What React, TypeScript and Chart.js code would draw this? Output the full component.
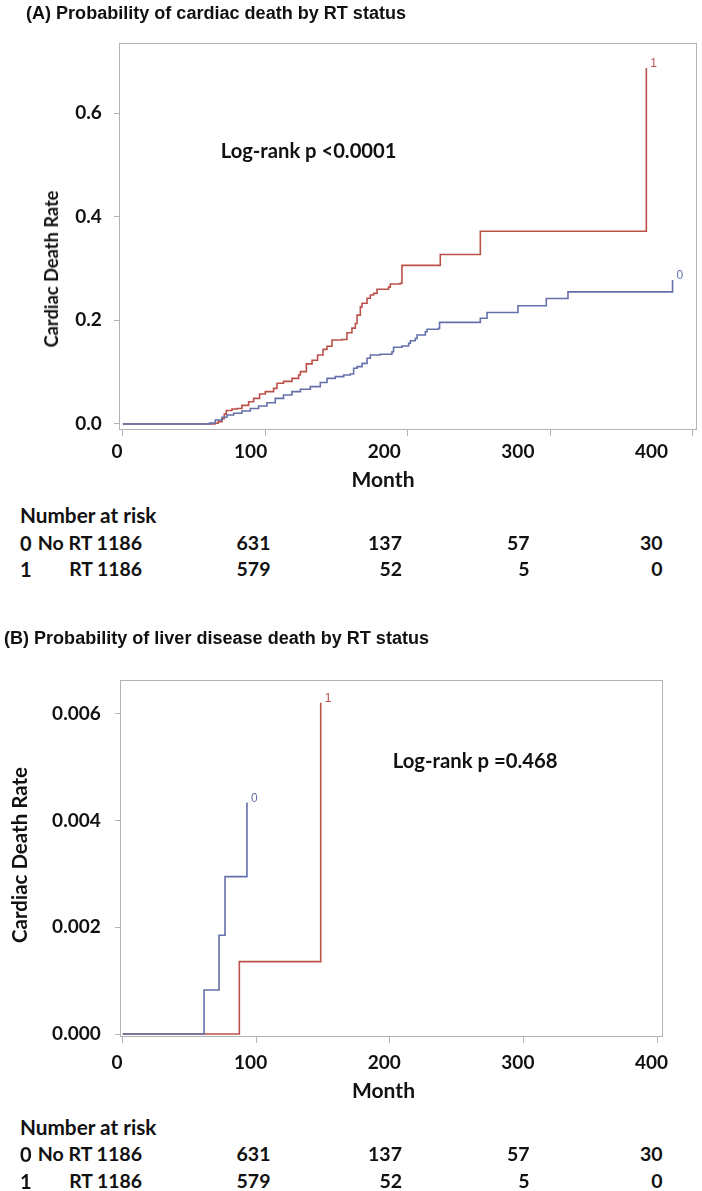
import React, { useEffect, useRef } from "react";
import { Chart, registerables } from "chart.js";

Chart.register(...registerables);

// ---------------- data ----------------
const X_TICKS = [0, 100, 200, 300, 400];
const A_Y_TICKS = [0, 0.2, 0.4, 0.6];
const B_Y_TICKS = [0, 0.002, 0.004, 0.006];
const GROUP_CODES = ["0", "1"];
const GROUP_NAMES = ["No RT", "RT"];
const RISK_AT_START = [1186, 1186];
const RISK_NO_RT = [631, 137, 57, 30];
const RISK_RT = [579, 52, 5, 0];

// Panel A: cardiac death
const A_NORT_MONTHS = [0, 60.9, 64.9, 69.6, 73.1, 77.8, 83.6, 89.5, 95.3, 101.2, 107, 112.8, 118.7, 124.6, 131.6, 138.6, 143.3, 149.1, 155, 159.6, 162, 164.4, 167.9, 171.4, 173.7, 180.7, 188.9, 190, 195.9, 200.6, 201.8, 205.3, 206.5, 212.3, 213.5, 221.6, 222.3, 250.9, 255.6, 277.3, 297.2, 312.4, 385.8];
const A_NORT_RATE = [0, 0.002, 0.0077, 0.013, 0.0174, 0.0206, 0.025, 0.03, 0.0347, 0.041, 0.0495, 0.056, 0.0624, 0.067, 0.072, 0.08, 0.088, 0.0913, 0.0945, 0.0965, 0.1075, 0.1106, 0.117, 0.1267, 0.133, 0.1345, 0.1395, 0.148, 0.1505, 0.1557, 0.1607, 0.165, 0.1717, 0.178, 0.1827, 0.1846, 0.196, 0.204, 0.215, 0.228, 0.242, 0.255, 0.278];
const A_RT_MONTHS = [0, 64.7, 67, 69.6, 71.2, 72.6, 76.6, 80.1, 83.6, 88.3, 91.8, 96, 100, 105.8, 108.2, 112.8, 118.7, 123.4, 124.6, 128.8, 132.8, 136.7, 140.5, 143.3, 146.8, 153.8, 157.3, 160.8, 163.2, 164.4, 166.7, 167.9, 171.4, 173.7, 176, 178.4, 186.5, 187.7, 194.7, 195.9, 222.8, 250.9, 367.4];
const A_RT_RATE = [0, 0.0013, 0.0045, 0.0103, 0.019, 0.026, 0.029, 0.03, 0.036, 0.043, 0.0495, 0.058, 0.0624, 0.0688, 0.0785, 0.0823, 0.088, 0.0945, 0.101, 0.116, 0.123, 0.133, 0.144, 0.15, 0.162, 0.163, 0.176, 0.185, 0.194, 0.21, 0.226, 0.233, 0.2425, 0.249, 0.252, 0.26, 0.264, 0.27, 0.2715, 0.306, 0.327, 0.372, 0.687];

// Panel B: liver disease death
const B_NORT_MONTHS = [0, 60.9, 72.1, 76.6, 93];
const B_NORT_RATE = [0, 0.000825, 0.00185, 0.00295, 0.00434];
const B_RT_MONTHS = [0, 87.3, 148.2];
const B_RT_RATE = [0, 0.001356, 0.00621];

// ---------------- styles ----------------
const BLUE = "#6470aa";
const RED = "#bb5149";
const AXIS_COLOR = "#b3b3b3";
const TEXT_COLOR = "#111";
const BODY_FONT = "Lato, 'Open Sans', sans-serif";
const TITLE_FONT = "'Liberation Sans', Arial, sans-serif";
const TICK_FONT = { family: BODY_FONT, size: 19, weight: "bold" as const };

let measureCtx: CanvasRenderingContext2D | null = null;
function textWidth(text: string, font: string): number {
  if (!measureCtx) measureCtx = document.createElement("canvas").getContext("2d");
  if (!measureCtx) return 1;
  measureCtx.font = font;
  return measureCtx.measureText(text).width || 1;
}

const kmPlugin = {
  id: "kmBox",
  beforeDatasetsDraw(chart: any) {
    const { ctx, chartArea: a } = chart;
    ctx.save();
    ctx.strokeStyle = AXIS_COLOR;
    ctx.lineWidth = 1;
    ctx.strokeRect(Math.round(a.left) + 0.5, Math.round(a.top) + 0.5, Math.round(a.right - a.left) - 1, Math.round(a.bottom - a.top) - 1);
    ctx.restore();
  },
  afterDatasetsDraw(chart: any) {
    const { ctx } = chart;
    ctx.save();
    ctx.font = "12px 'Liberation Sans', Arial, sans-serif";
    ctx.textAlign = "left";
    ctx.textBaseline = "bottom";
    chart.data.datasets.forEach((ds: any, i: number) => {
      const meta = chart.getDatasetMeta(i);
      const pts = meta.data;
      if (!pts.length) return;
      const last = pts[pts.length - 1];
      ctx.fillStyle = ds.borderColor;
      ctx.fillText(ds.label, last.x + 4, last.y + 2);
    });
    ctx.restore();
  },
};

type Series = { months: number[]; rate: number[]; color: string; label: string };

type KMProps = {
  top: number;
  height: number;
  padTop: number;
  padRight: number;
  yWidth: number;
  xMin: number;
  xMax: number;
  yMin: number;
  yMax: number;
  yTicks: number[];
  yDecimals: number;
  yTickPad: number;
  labelMin: number;
  labelMax: number;
  xlHeight: number;
  xlPad: number;
  series: Series[];
};

function KMChart(p: KMProps) {
  const ref = useRef<HTMLCanvasElement>(null);
  useEffect(() => {
    const chart = new Chart(ref.current as HTMLCanvasElement, {
      type: "line",
      data: {
        datasets: p.series.map((s) => ({
          label: s.label,
          data: s.months.map((m, i) => ({ x: m, y: s.rate[i] })),
          borderColor: s.color,
          backgroundColor: s.color,
          borderWidth: 1.6,
          pointRadius: 0,
          stepped: true,
          fill: false,
          xAxisID: "x",
          yAxisID: "y",
        })),
      },
      options: {
        responsive: false,
        animation: false,
        devicePixelRatio: 1,
        layout: { padding: { top: p.padTop, right: p.padRight, left: 0, bottom: 0 } },
        plugins: { legend: { display: false }, tooltip: { enabled: false } },
        scales: {
          x: {
            type: "linear",
            position: "bottom",
            weight: 0,
            min: p.xMin,
            max: p.xMax,
            border: { display: false },
            grid: { drawOnChartArea: false, drawTicks: true, tickLength: 6, color: AXIS_COLOR },
            ticks: { display: false },
            afterBuildTicks: (s: any) => {
              s.ticks = X_TICKS.map((v) => ({ value: v }));
            },
            afterFit: (s: any) => {
              s.height = 6;
            },
          },
          xl: {
            type: "linear",
            axis: "x",
            position: "bottom",
            weight: 1,
            min: p.labelMin,
            max: p.labelMax,
            border: { display: false },
            grid: { display: false, drawTicks: false },
            ticks: {
              font: TICK_FONT,
              color: TEXT_COLOR,
              padding: p.xlPad,
              autoSkip: false,
              maxRotation: 0,
              callback: (v: any) => String(v),
            },
            afterBuildTicks: (s: any) => {
              s.ticks = X_TICKS.map((v) => ({ value: v }));
            },
            afterFit: (s: any) => {
              s.height = p.xlHeight;
            },
          },
          y: {
            type: "linear",
            position: "left",
            min: p.yMin,
            max: p.yMax,
            border: { display: false },
            grid: { drawOnChartArea: false, drawTicks: true, tickLength: 5, color: AXIS_COLOR },
            ticks: {
              font: TICK_FONT,
              color: TEXT_COLOR,
              padding: p.yTickPad,
              autoSkip: false,
              callback: (v: any) => Number(v).toFixed(p.yDecimals),
            },
            afterBuildTicks: (s: any) => {
              s.ticks = p.yTicks.map((v) => ({ value: v }));
            },
            afterFit: (s: any) => {
              s.width = p.yWidth;
            },
          },
        },
      } as any,
      plugins: [kmPlugin],
    });
    return () => chart.destroy();
  }, []);
  return (
    <canvas
      ref={ref}
      width={702}
      height={p.height}
      style={{ position: "absolute", left: 0, top: p.top, width: 702, height: p.height, display: "block" }}
    />
  );
}

// Text placed in page pixels; `fit` sizes the font so the text spans that width,
// `squeeze` keeps the font size and narrows the glyphs horizontally instead.
function T(props: {
  x: number;
  y: number;
  align?: "left" | "center" | "right";
  size?: number;
  font?: string;
  fit?: number;
  squeeze?: number;
  children: string;
}) {
  const { x, y, align = "left", font = BODY_FONT, fit, squeeze, children } = props;
  let size = props.size ?? 19;
  if (fit) size = (size * fit) / textWidth(children, `bold ${size}px ${font}`);
  let sx = 1;
  if (squeeze) sx = squeeze / textWidth(children, `bold ${size}px ${font}`);
  const tx = align === "left" ? "0" : align === "center" ? "-50%" : "-100%";
  const origin = align === "left" ? "left center" : align === "center" ? "center center" : "right center";
  return (
    <div
      style={{
        position: "absolute",
        left: x,
        top: y,
        transform: `translate(${tx}, -50%)${sx !== 1 ? ` scaleX(${sx})` : ""}`,
        transformOrigin: origin,
        fontFamily: font,
        fontWeight: 700,
        fontSize: size,
        lineHeight: 1.2,
        whiteSpace: "nowrap",
        color: TEXT_COLOR,
      }}
    >
      {children}
    </div>
  );
}

function YTitle(props: { x: number; y: number; fit: number; children: string }) {
  const base = 19;
  const size = (base * props.fit) / textWidth(props.children, `bold ${base}px ${BODY_FONT}`);
  return (
    <div
      style={{
        position: "absolute",
        left: props.x,
        top: props.y,
        transform: "translate(-50%, -50%) rotate(-90deg)",
        fontFamily: BODY_FONT,
        fontWeight: 700,
        fontSize: size,
        lineHeight: 1.2,
        whiteSpace: "nowrap",
        color: TEXT_COLOR,
      }}
    >
      {props.children}
    </div>
  );
}

const RISK_RIGHT = [270.5, 402, 529.5, 662.5];
const ROW_NAME_WIDTH = [105, 73.4];

function RiskTable(props: { top: number }) {
  const t = props.top;
  const rows = [RISK_NO_RT, RISK_RT];
  return (
    <>
      <T x={20} y={t} fit={137}>Number at risk</T>
      {rows.map((row, r) => (
        <React.Fragment key={r}>
          <T x={20} y={t + 27.7 + r * 26.6} size={20}>{GROUP_CODES[r]}</T>
          <T x={142} y={t + 27.7 + r * 26.6} align="right" fit={ROW_NAME_WIDTH[r]}>
            {`${GROUP_NAMES[r]} ${RISK_AT_START[r]}`}
          </T>
          {row.map((v, i) => (
            <T key={i} x={RISK_RIGHT[i]} y={t + 27.7 + r * 26.6} align="right" size={19.5}>
              {String(v)}
            </T>
          ))}
        </React.Fragment>
      ))}
    </>
  );
}

export default function App() {
  return (
    <div style={{ position: "absolute", left: 0, top: 0, width: 702, height: 1191, background: "#fff", overflow: "hidden" }}>
      <KMChart
        top={0}
        height={470}
        padTop={43}
        padRight={5}
        yWidth={119}
        xMin={-2.67}
        xMax={402.95}
        yMin={-0.0116}
        yMax={0.7351}
        yTicks={A_Y_TICKS}
        yDecimals={1}
        yTickPad={12.3}
        labelMin={1.5}
        labelMax={434.05}
        xlHeight={34}
        xlPad={4.6}
        series={[
          { months: A_NORT_MONTHS, rate: A_NORT_RATE, color: BLUE, label: GROUP_CODES[0] },
          { months: A_RT_MONTHS, rate: A_RT_RATE, color: RED, label: GROUP_CODES[1] },
        ]}
      />
      <KMChart
        top={640}
        height={440}
        padTop={40}
        padRight={39}
        yWidth={120}
        xMin={-2.02}
        xMax={404.4}
        yMin={-0.0000562}
        yMax={0.006635}
        yTicks={B_Y_TICKS}
        yDecimals={3}
        yTickPad={14.3}
        labelMin={2.245}
        labelMax={408.6}
        xlHeight={37}
        xlPad={8.9}
        series={[
          { months: B_NORT_MONTHS, rate: B_NORT_RATE, color: BLUE, label: GROUP_CODES[0] },
          { months: B_RT_MONTHS, rate: B_RT_RATE, color: RED, label: GROUP_CODES[1] },
        ]}
      />

      <T x={26} y={14} size={18} font={TITLE_FONT} squeeze={380}>(A) Probability of cardiac death by RT status</T>
      <YTitle x={52} y={268.5} fit={157}>Cardiac Death Rate</YTitle>
      <T x={220.7} y={150} fit={176}>Log-rank p &lt;0.0001</T>
      <T x={383} y={479} align="center" fit={63}>Month</T>
      <RiskTable top={515} />

      <T x={4} y={639} size={18} font={TITLE_FONT} squeeze={425}>(B) Probability of liver disease death by RT status</T>
      <YTitle x={19} y={855} fit={176}>Cardiac Death Rate</YTitle>
      <T x={392.7} y={760} fit={165}>Log-rank p =0.468</T>
      <T x={383.5} y={1090} align="center" fit={63}>Month</T>
      <RiskTable top={1126.7} />
    </div>
  );
}
